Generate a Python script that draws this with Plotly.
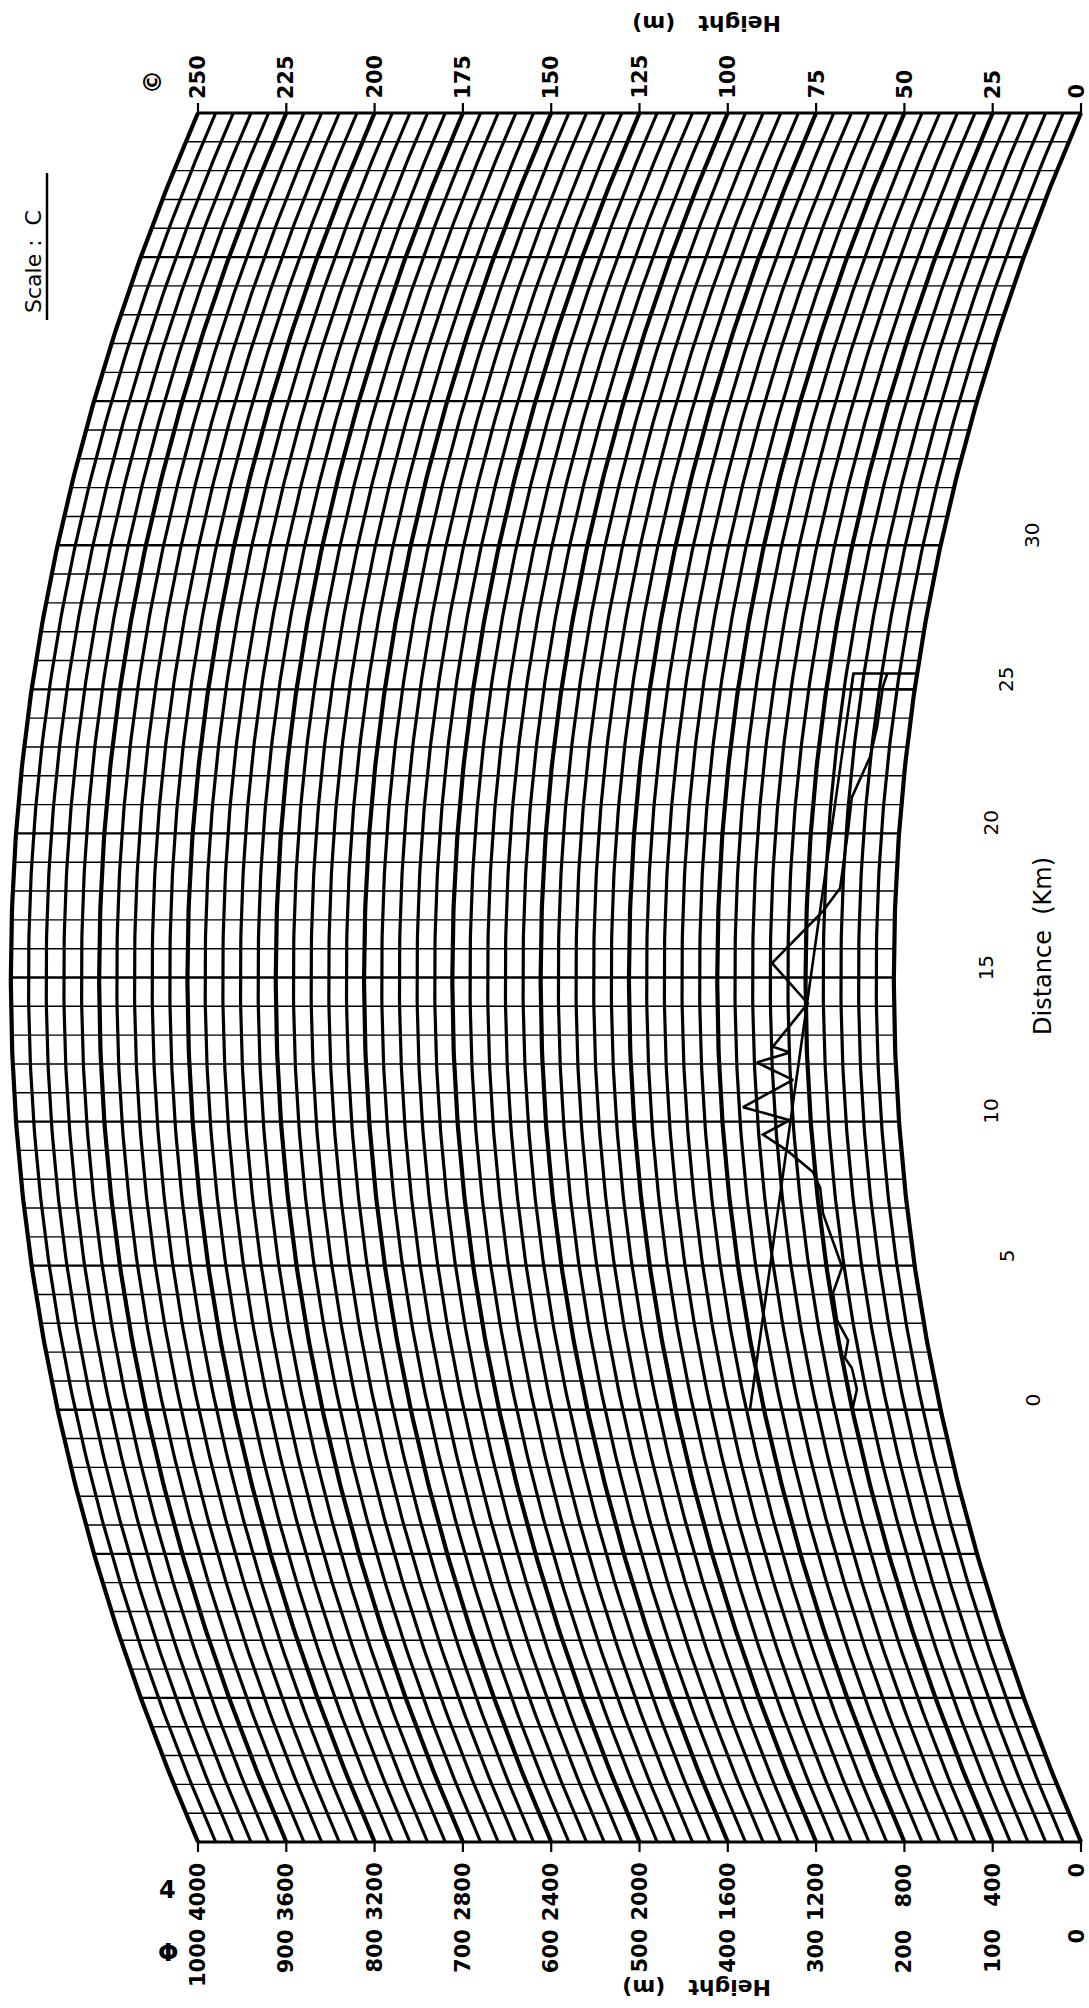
import numpy as np
import plotly.graph_objects as go

# Path-profile chart on 4/3-earth curvature paper, printed turned on its side:
# distance runs upward, height runs leftward.
K_FACTOR = 4.0 / 3.0
EARTH_RADIUS_KM = 6370.0
D_MIN, D_MAX = -15.0, 45.0          # km covered by the sheet
GRID_KM_STEP = 1                     # distance rulings
GRID_M_STEP = 5                      # height arcs
H_TOP = 250                          # top of the 250 m scale

# Scale labels
height_ticks_m = [0, 25, 50, 75, 100, 125, 150, 175, 200, 225, 250]
height_ticks_4000 = [0, 400, 800, 1200, 1600, 2000, 2400, 2800, 3200, 3600, 4000]
height_ticks_1000 = [0, 100, 200, 300, 400, 500, 600, 700, 800, 900, 1000]
distance_ticks_km = [0, 5, 10, 15, 20, 25, 30]

# Terrain profile along the path (distance km, height m)
terrain_km = [0.0, 0.7, 1.45, 1.8, 2.4, 3.1, 4.05, 4.95, 6.8, 7.7, 8.25, 9.0,
              9.55, 10.05, 10.5, 11.45, 12.05, 12.4, 12.6, 14.1, 15.5, 17.3,
              18.1, 20.1, 21.25, 22.65, 23.7, 25.1, 25.55]
terrain_m = [25.0, 22.5, 22.7, 24.1, 22.3, 24.4, 24.3, 20.6, 24.0, 24.0, 25.6,
             32.4, 38.8, 30.9, 43.9, 29.3, 39.3, 29.8, 34.6, 24.4, 34.5, 20.4,
             15.8, 14.5, 14.2, 10.2, 9.2, 9.1, 8.4]

# Line of sight between the two antennas
los_km = [0.0, 25.55]
los_m = [54.0, 18.0]

# Receiving site block
site_km = [25.0, 25.0, 25.55, 25.55, 25.0]
site_m = [0.0, 18.0, 18.0, 0.0, 0.0]

# Sheet geometry in pixels
W, H = 1089, 2008
X_ZERO_PX, X_TOP_PX = 1081.0, 198.0   # h = 0 and h = 250 along the top edge
Y_TOP_PX, Y_BOT_PX = 113.0, 1842.0    # d = 45 and d = -15
PX_PER_M = (X_ZERO_PX - X_TOP_PX) / H_TOP
PX_PER_KM = (Y_BOT_PX - Y_TOP_PX) / (D_MAX - D_MIN)
X_RANGE = [X_ZERO_PX / PX_PER_M, -(W - X_ZERO_PX) / PX_PER_M]
Y_RANGE = [D_MIN - (H - Y_BOT_PX) / PX_PER_KM, D_MAX + Y_TOP_PX / PX_PER_KM]


def bulge(d):
    """Earth bulge (m) above the chord at distance d (km)."""
    d = np.asarray(d, dtype=float)
    return (d - D_MIN) * (D_MAX - d) / (2.0 * K_FACTOR * EARTH_RADIUS_KM) * 1000.0


def on_paper(d, h):
    d = np.asarray(d, dtype=float)
    return np.asarray(h, dtype=float) + bulge(d), d


def joined(segments):
    xs, ys = [], []
    for sx, sy in segments:
        xs.extend(list(sx) + [None])
        ys.extend(list(sy) + [None])
    return xs, ys


def line_trace(segments, width, color="black"):
    xs, ys = joined(segments)
    return go.Scatter(x=xs, y=ys, mode="lines", line=dict(color=color, width=width),
                      hoverinfo="skip", showlegend=False)


d_fine = np.linspace(D_MIN, D_MAX, 241)

# Height arcs
arcs_thin, arcs_thick = [], []
for h in range(0, H_TOP + 1, GRID_M_STEP):
    seg = on_paper(d_fine, np.full_like(d_fine, h))
    (arcs_thick if h % 25 == 0 else arcs_thin).append(seg)

# Distance rulings
rul_thin, rul_thick, rul_edge = [], [], []
for d in range(int(D_MIN), int(D_MAX) + 1, GRID_KM_STEP):
    seg = on_paper([d, d], [0, H_TOP])
    if d in (D_MIN, D_MAX):
        rul_edge.append(seg)
    elif d % 5 == 0:
        rul_thick.append(seg)
    else:
        rul_thin.append(seg)

# Scale ticks on the two straight edges
tick_len = 10.0 / PX_PER_KM
ticks = []
for h in height_ticks_m:
    ticks.append(([h, h], [D_MAX, D_MAX + tick_len]))
    ticks.append(([h, h], [D_MIN, D_MIN - tick_len]))

fig = go.Figure()
fig.add_trace(line_trace(rul_thin, 1.4))
fig.add_trace(line_trace(rul_thick, 2.4))
fig.add_trace(line_trace(rul_edge, 3.0))
fig.add_trace(line_trace(arcs_thin, 3.2))
fig.add_trace(line_trace(arcs_thick, 4.2))
fig.add_trace(line_trace(ticks, 2.2))

tx, ty = on_paper(terrain_km, terrain_m)
fig.add_trace(go.Scatter(x=tx, y=ty, mode="lines", line=dict(color="black", width=2.6),
                         hoverinfo="skip", showlegend=False))
lx, ly = on_paper(los_km, los_m)
fig.add_trace(go.Scatter(x=lx, y=ly, mode="lines", line=dict(color="black", width=2.6),
                         hoverinfo="skip", showlegend=False))
sx, sy = on_paper(site_km, site_m)
fig.add_trace(go.Scatter(x=sx, y=sy, mode="lines", line=dict(color="black", width=2.4),
                         hoverinfo="skip", showlegend=False))

FONT = "DejaVu Sans"
ann = []


def label(text, x, y, size, angle=-90, bold=False, xanchor="center", yanchor="middle",
          xshift=0, yshift=0, xref="x", yref="y"):
    ann.append(dict(text=text, x=x, y=y, xref=xref, yref=yref, showarrow=False,
                    textangle=angle, xanchor=xanchor, yanchor=yanchor,
                    xshift=xshift, yshift=yshift,
                    font=dict(family=FONT, size=size, color="black",
                              weight="bold" if bold else "normal")))


for h in height_ticks_m:
    # keep the zero labels inside the sheet's right edge
    nudge = -5 if h == 0 else 0
    label(str(h), h, D_MAX, 21, bold=True, yanchor="bottom", yshift=12, xshift=nudge)
for h, v4, v1 in zip(height_ticks_m, height_ticks_4000, height_ticks_1000):
    nudge = -5 if h == 0 else 0
    label(str(v4), h, D_MIN, 21, bold=True, yanchor="top", yshift=-19, xshift=nudge)
    label(str(v1), h, D_MIN, 21, bold=True, yanchor="top", yshift=-85, xshift=nudge)
for d in distance_ticks_km:
    label(str(d), float(bulge(d)), d, 20, xshift=92, yshift=10)

label("Distance  (Km)", 1043 / W, 1 - 946 / H, 24, xref="paper", yref="paper")
label("Height   (m)", 707 / W, 1 - 23 / H, 22, angle=180, bold=True,
      xref="paper", yref="paper")
label("Height   (m)", 697 / W, 1 - 1988 / H, 22, angle=180, bold=True,
      xref="paper", yref="paper")
label("Scale :  C", 33 / W, 1 - 262 / H, 22, xref="paper", yref="paper")
label("©", 153 / W, 1 - 82 / H, 24, bold=True, xref="paper", yref="paper")
label("4", 167 / W, 1 - 1890 / H, 24, angle=0, bold=True, xref="paper", yref="paper")
label("Φ", 168 / W, 1 - 1953 / H, 24, angle=0, bold=True, xref="paper", yref="paper")

fig.update_layout(
    width=W, height=H,
    margin=dict(l=0, r=0, t=0, b=0),
    paper_bgcolor="white", plot_bgcolor="white",
    xaxis=dict(range=X_RANGE, visible=False, showgrid=False, zeroline=False, fixedrange=True),
    yaxis=dict(range=Y_RANGE, visible=False, showgrid=False, zeroline=False, fixedrange=True),
    annotations=ann,
    shapes=[dict(type="line", xref="paper", yref="paper",
                 x0=47 / W, x1=47 / W, y0=1 - 173 / H, y1=1 - 320 / H,
                 line=dict(color="black", width=2.5))],
)

fig.write_html("out.html")
